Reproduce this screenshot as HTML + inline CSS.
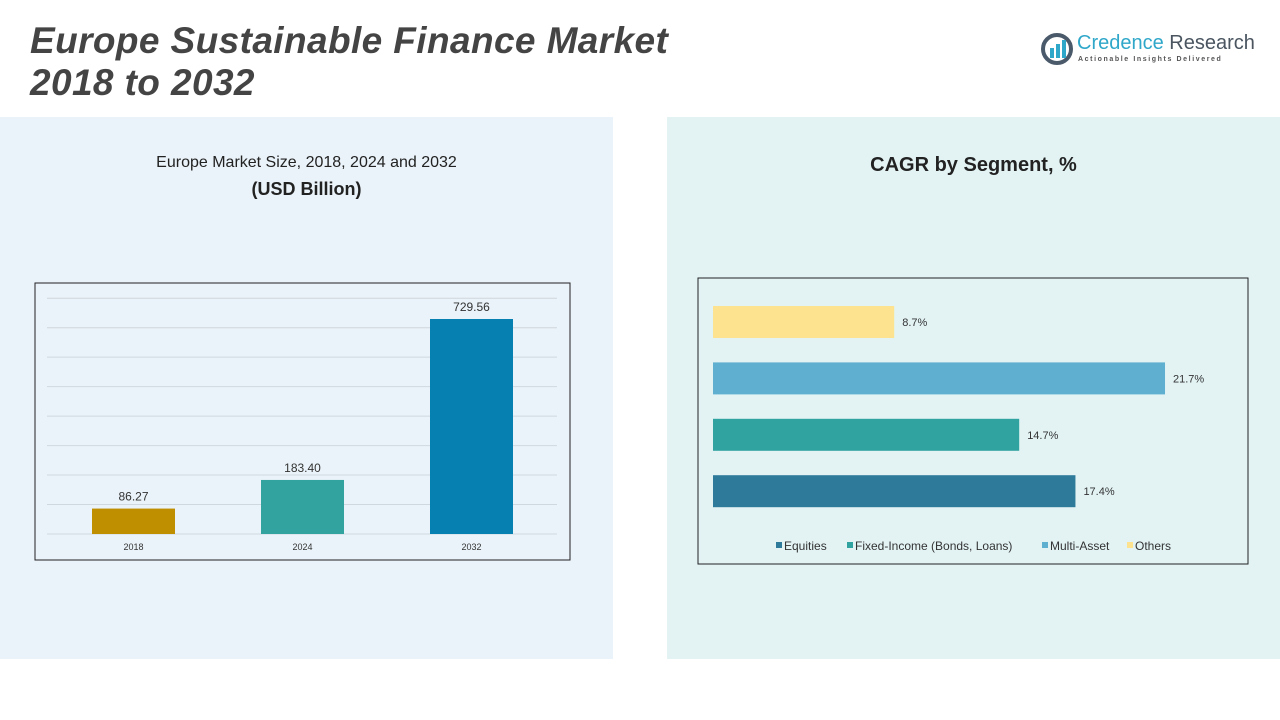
<!DOCTYPE html>
<html><head><meta charset="utf-8">
<style>
body{margin:0;width:1280px;height:720px;position:relative;background:#fff;font-family:"Liberation Sans",sans-serif;overflow:hidden}
.abs{position:absolute}
</style></head><body>
<div class="abs" style="left:0;top:117px;width:613px;height:542px;background:#eaf3f9"></div>
<div class="abs" style="left:667px;top:117px;width:613px;height:542px;background:#e3f3f4"></div>
<div class="abs" style="left:30px;top:20px;font-size:37px;letter-spacing:0.4px;font-weight:bold;font-style:italic;color:#444;line-height:42px">Europe Sustainable Finance Market<br>2018 to 2032</div>
<div class="abs" style="left:1040px;top:32px;width:215px;height:35px">
<svg width="34" height="34" style="position:absolute;left:0;top:0"><circle cx="17" cy="17" r="14" fill="none" stroke="#4a5a6a" stroke-width="4"/><rect x="10" y="16" width="4" height="10" fill="#2fa7c9"/><rect x="16" y="12" width="4" height="14" fill="#2fa7c9"/><rect x="22" y="8" width="4" height="18" fill="#2fa7c9"/></svg>
<div class="abs" style="left:37px;top:0;font-size:20px;color:#2fa7c9;white-space:nowrap">Credence <span style="color:#4a5560">Research</span></div>
<div class="abs" style="left:38px;top:24px;font-size:7px;letter-spacing:1.6px;color:#555;white-space:nowrap;font-weight:bold">Actionable Insights Delivered</div>
</div>
<div class="abs" style="left:0;top:150px;width:613px;text-align:center;font-size:16px;color:#222;line-height:26px">Europe Market Size, 2018, 2024 and 2032<br><b style="font-size:18px">(USD Billion)</b></div>
<div class="abs" style="left:667px;top:154px;width:613px;text-align:center;font-size:20px;font-weight:bold;color:#222">CAGR by Segment, %</div>
<svg class="abs" style="left:0;top:0" width="1280" height="720" id="svg">
<rect x="35" y="283" width="535" height="277" fill="none" stroke="#222" stroke-width="1"/>
<rect x="698" y="278" width="550" height="286" fill="none" stroke="#222" stroke-width="1"/>
<g id="left"></g><g id="right"></g>
</svg>
<script>
const years=["2018","2024","2032"];
const sizes=[86.27,183.40,729.56];
const sizeLabels=["86.27","183.40","729.56"];
const gridTicks=[0,100,200,300,400,500,600,700,800];
const segments=["Others","Multi-Asset","Fixed-Income (Bonds, Loans)","Equities"];
const cagr=[8.7,21.7,14.7,17.4];
const cagrLabels=["8.7%","21.7%","14.7%","17.4%"];
const ns="http://www.w3.org/2000/svg";
function mk(t,a,p){const e=document.createElementNS(ns,t);for(const k in a)e.setAttribute(k,a[k]);p.appendChild(e);return e;}
const L=document.getElementById('left'),R=document.getElementById('right');
const yS=v=>534-v*0.2947, xBand=i=>49+i*169;
gridTicks.forEach(t=>{const l=mk('line',{x1:47,x2:557,y1:yS(t),y2:yS(t),stroke:'#cfd8de','stroke-width':1},L);

});
const lc=['#bf8f00','#33a3a0','#0580b0'];
years.forEach((y,i)=>{const cx=xBand(i)+84.5;
const b=mk('rect',{x:cx-41.5,y:yS(sizes[i]),width:83,height:534-yS(sizes[i]),fill:lc[i]},L);


const v=mk('text',{x:cx,y:yS(sizes[i])-8,'text-anchor':'middle','font-size':12,fill:'#333'},L);v.textContent=sizeLabels[i];


const t=mk('text',{x:cx,y:550,'text-anchor':'middle','font-size':9,fill:'#333'},L);t.textContent=y;

});
const xS=v=>713+v*20.83;
const rc=['#fde38f','#5fb0d0','#30a3a0','#2e7a9a'];
segments.forEach((s,i)=>{const y=306+i*56.4;
const b=mk('rect',{x:713,y:y,width:xS(cagr[i])-713,height:32,fill:rc[i]},R);


const t=mk('text',{x:xS(cagr[i])+8,y:y+20,'font-size':11,fill:'#333'},R);t.textContent=cagrLabels[i];

});
const leg=["Equities","Fixed-Income (Bonds, Loans)","Multi-Asset","Others"],lcol=['#2e7a9a','#30a3a0','#5fb0d0','#fde38f'],lx=[776,847,1042,1127];
leg.forEach((s,i)=>{const r=mk('rect',{x:lx[i],y:542,width:6,height:6,fill:lcol[i]},R);


const t=mk('text',{x:lx[i]+8,y:550,'font-size':12,fill:'#333'},R);t.textContent=s;

});
</script>
</body></html>
